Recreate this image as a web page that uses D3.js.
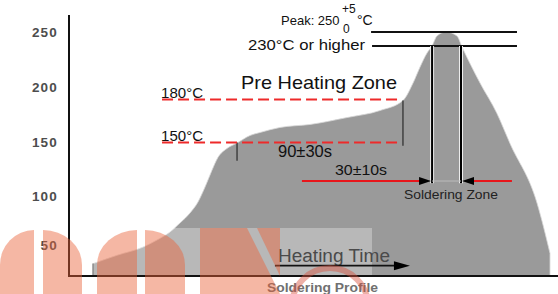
<!DOCTYPE html>
<html>
<head>
<meta charset="utf-8">
<title>Soldering Profile</title>
<script src="https://d3js.org/d3.v7.min.js"></script>
<style>
  body { margin: 0; background: #fff; }
  svg { display: block; }
  text { font-family: "Liberation Sans", Arial, sans-serif; }
</style>
</head>
<body>
<svg width="558" height="294"></svg>
<script>
// profile: time (s, schematic) and temperature (°C)
var curveTime = [14.8, 29.5, 45.5, 54.1, 62.1, 68.2, 74.4, 79.3, 83.6, 87.9, 91.6, 97.1, 103.3,
                 111.3, 117.5, 129.7, 148.2, 170.9, 191.2, 205.3, 211.5, 215.8, 220.1, 223.2,
                 226.2, 231.8, 238.5, 241.6, 252.7, 263.1, 271.1, 287.7, 295.7];
var curveTemp = [35, 41.7, 48.3, 55.1, 63.3, 72.4, 82.7, 93.9, 108.3, 124.1, 136.1, 144.4, 149.5,
                 154.9, 157, 160.5, 162.6, 167.4, 172.3, 179.3, 202.9, 214.6, 224.9, 230,
                 244.3, 250, 244.3, 229.3, 202.9, 170.2, 149.1, 92.9, 43.3];
var yTicks = [50, 100, 150, 200, 250];
var baseTemp = 25;

// reference lines
var solidLines = [{temp: 250, t0: 185.7, t1: 275.4}, {temp: 230, t0: 186.3, t1: 275.4}];
var dashLines = [{temp: 180, t0: 57.2, t1: 204.7, label: "180°C"},
                 {temp: 150, t0: 57.2, t1: 203.5, label: "150°C"}];
var preMarks = [{t: 103.3, top: 150, bottom: 133}, {t: 205.3, top: 179.3, bottom: 147}];
var solderMarks = [{t: 223.2, top: 230, bottom: 112}, {t: 241.0, top: 230, bottom: 112}];
var solderArrowTemp = 114;
var solderArrowLeft = [143.2, 223.2];
var solderArrowRight = [241.0, 272.3];
var heatArrow = {temp: 33.3, t0: 126.6, t1: 209.6};

var svg = d3.select("svg");

var x = d3.scaleLinear().domain([0, 300]).range([69, 557]);
// the drawing is schematic, so the temperature axis is piecewise
var y = d3.scaleLinear()
    .domain([25, 50, 100, 150, 180, 200, 230, 250])
    .range([276, 245, 196, 142.5, 99.5, 87, 46, 32]);

var pts = curveTime.map(function(t, i) { return [t, curveTemp[i]]; });

var area = d3.area()
    .x(function(d) { return x(d[0]); })
    .y0(y(baseTemp))
    .y1(function(d) { return y(d[1]); })
    .curve(d3.curveMonotoneX);

svg.append("path")
    .datum(pts)
    .attr("d", area)
    .attr("fill", "#9a9a9a")
    .attr("stroke", "#d8d8d8")
    .attr("stroke-width", 0.8);

// start tick of curve
svg.append("line")
    .attr("x1", x(curveTime[0])).attr("x2", x(curveTime[0]))
    .attr("y1", y(baseTemp)).attr("y2", y(curveTemp[0]))
    .attr("stroke", "#555").attr("stroke-width", 1.5);

// y axis labels
var yAxis = d3.axisLeft(y).tickValues(yTicks).tickSize(0).tickPadding(11);
var ga = svg.append("g").attr("transform", "translate(" + x(0) + ",0)").call(yAxis);
ga.select(".domain").remove();
ga.selectAll("text")
    .attr("font-family", "Liberation Serif, Times New Roman, serif")
    .attr("font-size", 13.5).attr("font-weight", "bold")
    .attr("letter-spacing", 1.2)
    .attr("fill", "#4d4d4d");

// translucent band of the watermark (below it)
svg.append("rect").attr("x", 68).attr("y", 228).attr("width", 304).attr("height", 66)
    .attr("fill", "#fff").attr("opacity", 0.3);

// axes lines
svg.append("line").attr("x1", x(0)).attr("x2", x(0)).attr("y1", 15).attr("y2", y(baseTemp) + 1)
    .attr("stroke", "#111").attr("stroke-width", 2);
svg.append("line").attr("x1", x(0)).attr("x2", 558).attr("y1", y(baseTemp)).attr("y2", y(baseTemp))
    .attr("stroke", "#111").attr("stroke-width", 2);

// preheat vertical markers
svg.selectAll(".pre").data(preMarks).enter().append("line")
    .attr("x1", function(d) { return x(d.t); }).attr("x2", function(d) { return x(d.t); })
    .attr("y1", function(d) { return y(d.top); }).attr("y2", function(d) { return y(d.bottom); })
    .attr("stroke", "#333").attr("stroke-width", 1.3);

// dashed red lines
svg.selectAll(".dash").data(dashLines).enter().append("line")
    .attr("x1", function(d) { return x(d.t0); }).attr("x2", function(d) { return x(d.t1); })
    .attr("y1", function(d) { return y(d.temp); }).attr("y2", function(d) { return y(d.temp); })
    .attr("stroke", "#ee2a2a").attr("stroke-width", 2).attr("stroke-dasharray", "11,5");
svg.selectAll(".dashlab").data(dashLines).enter().append("text")
    .attr("x", function(d) { return x(d.t0) - 1; })
    .attr("y", function(d) { return y(d.temp) - 2; })
    .attr("font-size", 15).attr("textLength", 42).attr("lengthAdjust", "spacingAndGlyphs")
    .attr("fill", "#111")
    .text(function(d) { return d.label; });

// solid black lines at peak / 230
svg.selectAll(".solid").data(solidLines).enter().append("line")
    .attr("x1", function(d) { return x(d.t0); }).attr("x2", function(d) { return x(d.t1); })
    .attr("y1", function(d) { return y(d.temp); }).attr("y2", function(d) { return y(d.temp); })
    .attr("stroke", "#111").attr("stroke-width", 1.8);

// soldering zone verticals (white edged)
[["#eee", 4], ["#000", 2]].forEach(function(s) {
  svg.selectAll(null).data(solderMarks).enter().append("line")
    .attr("x1", function(d) { return x(d.t); }).attr("x2", function(d) { return x(d.t); })
    .attr("y1", function(d) { return y(d.top); }).attr("y2", function(d) { return y(d.bottom); })
    .attr("stroke", s[0]).attr("stroke-width", s[1]);
});

// 30±10s arrows
var ya = y(solderArrowTemp);
svg.append("line").attr("x1", x(solderMarks[0].t)).attr("x2", x(solderMarks[1].t))
    .attr("y1", ya).attr("y2", ya).attr("stroke", "#bbb").attr("stroke-width", 1);
svg.append("line").attr("x1", x(solderArrowLeft[0])).attr("x2", x(solderArrowLeft[1]) - 10)
    .attr("y1", ya).attr("y2", ya).attr("stroke", "#e8161b").attr("stroke-width", 2.2);
svg.append("line").attr("x1", x(solderArrowRight[0]) + 10).attr("x2", x(solderArrowRight[1]))
    .attr("y1", ya).attr("y2", ya).attr("stroke", "#e8161b").attr("stroke-width", 2.2);
function arrowHead(tipX, tipY, dir, len, half) {
  svg.append("path")
    .attr("d", "M" + tipX + "," + tipY + "L" + (tipX - dir * len) + "," + (tipY - half) +
               "L" + (tipX - dir * len) + "," + (tipY + half) + "Z")
    .attr("fill", "#000");
}
arrowHead(x(solderArrowLeft[1]) - 1, ya, 1, 12, 4);
arrowHead(x(solderArrowRight[0]) + 1, ya, -1, 12, 4);

// labels
function label(txt, px, py, size, len, opts) {
  opts = opts || {};
  var t = svg.append("text").attr("x", px).attr("y", py)
      .attr("font-size", size).attr("fill", opts.fill || "#111")
      .text(txt);
  if (len) t.attr("textLength", len).attr("lengthAdjust", "spacingAndGlyphs");
  if (opts.family) t.attr("font-family", opts.family);
  if (opts.weight) t.attr("font-weight", opts.weight);
  return t;
}

// peak label with tolerance as super/subscript
label("Peak: 250", 281, 24.5, 13);
label("+5", 342, 13, 12);
label("0", 343, 33, 12);
label("°C", 357, 24.5, 14);

label("230°C or higher", 248, 50, 15, 117);
label("Pre Heating Zone", 241, 89, 19, 156);
label("90±30s", 278, 157, 17, 54, {family: "Liberation Serif, Times New Roman, serif"});
label("30±10s", 335, 175, 15, 52);
label("Soldering Zone", 404, 199, 13.5, 94, {fill: "#222"});
label("Heating Time", 278, 262, 18, 112, {fill: "#4a4a4a"});
label("Soldering Profile", 267, 292, 13, 111, {fill: "#707070", weight: "bold"});

// heating time arrow
var yh = y(heatArrow.temp);
svg.append("line").attr("x1", x(heatArrow.t0)).attr("x2", x(heatArrow.t1) - 12)
    .attr("y1", yh).attr("y2", yh).attr("stroke", "#111").attr("stroke-width", 1.8);
arrowHead(x(heatArrow.t1), yh, 1, 16, 4.5);

// watermark
var wm = svg.append("g").attr("opacity", 0.45).attr("fill", "rgb(235,97,55)");
wm.append("path").attr("d", "M0,294L0,265A34,35 0 0 1 34,230L34,294Z");
wm.append("path").attr("d", "M43,294L43,230A39,35 0 0 1 82,265L82,294Z");
wm.append("path").attr("d", "M97,294L97,265A40,35 0 0 1 137,230L137,294Z");
wm.append("path").attr("d", "M145,294L145,230A40,35 0 0 1 185,265L185,294Z");
wm.append("path").attr("d", "M200,228L247,228L280,294L200,294Z");
wm.append("path").attr("d", "M257,228L280,228L280,276Z");
svg.append("defs").append("clipPath").attr("id", "wmclip")
    .append("rect").attr("x", 0).attr("y", 228).attr("width", 372).attr("height", 70);
svg.append("circle").attr("cx", 330).attr("cy", 306).attr("r", 38)
    .attr("fill", "none").attr("stroke", "rgb(215,80,60)").attr("stroke-width", 6)
    .attr("opacity", 0.45).attr("clip-path", "url(#wmclip)");
</script>
</body>
</html>
